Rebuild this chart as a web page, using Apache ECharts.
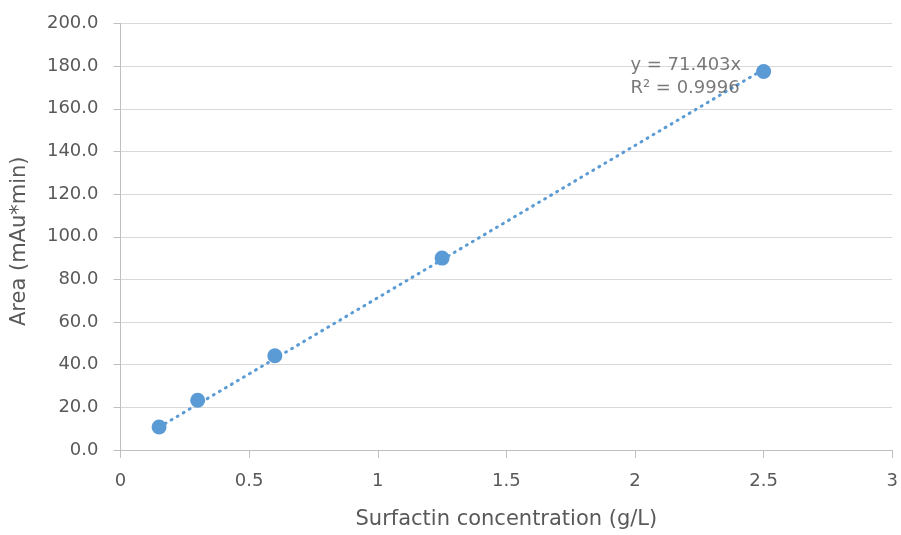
<!DOCTYPE html>
<html>
<head>
<meta charset="utf-8">
<script src="https://cdn.jsdelivr.net/npm/echarts@6/dist/echarts.min.js"></script>
<style>
  html, body { margin: 0; padding: 0; background: #ffffff; }
  #chart { width: 901px; height: 535px; }
</style>
</head>
<body>
<div id="chart"></div>
<script>
// Calibration data: surfactin concentration (g/L) vs. peak area (mAu*min)
const concentrations = [0.15, 0.3, 0.6, 1.25, 2.5];
const areas = [10.8, 23.3, 44.2, 90.0, 177.5];

// Linear fit through the origin, as reported
const slope = 71.403;
const rSquared = '0.9996';

const yTicks = { min: 0, max: 200, interval: 20 };
const xTicks = { min: 0, max: 3, interval: 0.5 };

const textColor = '#595959';
const fontFamily = '"DejaVu Sans", "Open Sans", sans-serif';
const pointColor = '#5b9bd5';

// Trendline spans the measured concentration range
const xFirst = concentrations[0];
const xLast = concentrations[concentrations.length - 1];
const trendline = [[xFirst, slope * xFirst], [xLast, slope * xLast]];

const chart = echarts.init(document.getElementById('chart'), null, { renderer: 'canvas' });

chart.setOption({
  animation: false,
  backgroundColor: '#ffffff',
  textStyle: { fontFamily: fontFamily },
  grid: { left: 120.5, right: 8, top: 23.5, bottom: 83.5 },
  xAxis: {
    type: 'value',
    min: xTicks.min,
    max: xTicks.max,
    interval: xTicks.interval,
    name: 'Surfactin concentration (g/L)',
    nameLocation: 'middle',
    nameGap: 59,
    nameTextStyle: { color: textColor, fontSize: 21, fontFamily: fontFamily },
    axisLine: { show: true, lineStyle: { color: '#bfbfbf', width: 1 } },
    axisTick: { show: true, length: 8, lineStyle: { color: '#bfbfbf' } },
    axisLabel: { color: textColor, fontSize: 18, margin: 22, fontFamily: fontFamily },
    splitLine: { show: false }
  },
  yAxis: {
    type: 'value',
    min: yTicks.min,
    max: yTicks.max,
    interval: yTicks.interval,
    name: 'Area (mAu*min)',
    nameLocation: 'middle',
    nameGap: 90,
    nameRotate: 90,
    nameTextStyle: {
      color: textColor, fontSize: 21, fontFamily: fontFamily,
      padding: [0, 9, 0, 0]
    },
    axisLine: { show: true, lineStyle: { color: '#bfbfbf', width: 1 } },
    axisTick: { show: true, length: 7, lineStyle: { color: '#bfbfbf' } },
    axisLabel: {
      color: textColor, fontSize: 18, margin: 22, fontFamily: fontFamily,
      formatter: v => v.toFixed(1)
    },
    splitLine: { show: true, lineStyle: { color: '#d9d9d9', width: 1 } }
  },
  series: [
    {
      name: 'Linear fit',
      type: 'line',
      data: trendline,
      symbol: 'none',
      silent: true,
      z: 2,
      lineStyle: { color: pointColor, width: 3, type: [1, 6], cap: 'round' }
    },
    {
      name: 'Area',
      type: 'scatter',
      data: concentrations.map((c, i) => [c, areas[i]]),
      symbol: 'circle',
      symbolSize: 15,
      z: 3,
      itemStyle: { color: pointColor, opacity: 1 }
    },
    {
      name: 'Fit equation',
      type: 'scatter',
      data: [[1.982, 174.8]],
      symbolSize: 0,
      silent: true,
      z: 4,
      label: {
        show: true,
        position: 'right',
        distance: 0,
        color: textColor,
        fontSize: 18,
        lineHeight: 23,
        align: 'left',
        fontFamily: fontFamily,
        formatter: () => 'y = ' + slope + 'x\nR² = ' + rSquared
      }
    }
  ]
});
</script>
</body>
</html>
